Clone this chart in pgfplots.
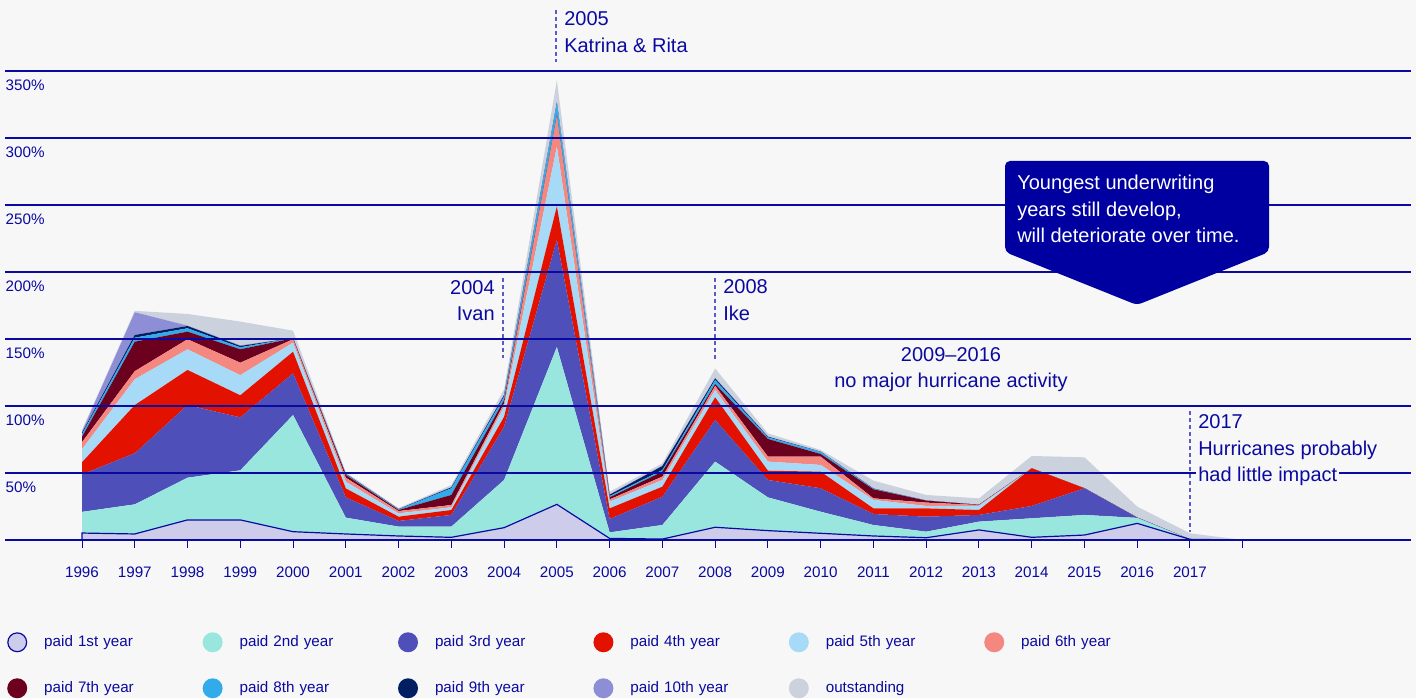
\documentclass[border=0pt]{standalone}
\usepackage{fontspec}
\setmainfont{Liberation Sans}
\usepackage{pgfplots}
\usepackage{pgfplotstable}
\pgfplotsset{compat=1.18}

\newlength\px
\setlength\px{0.75bp}

\definecolor{bg}{HTML}{F7F7F7}
\definecolor{navy}{HTML}{0A0AA0}
\definecolor{dashcol}{HTML}{5A5AC8}
\definecolor{boxblue}{HTML}{0000A0}
\definecolor{pone}{HTML}{CDCDEB}
\definecolor{ptwo}{HTML}{99E6DF}
\definecolor{pthree}{HTML}{4F4FBA}
\definecolor{pfour}{HTML}{E21100}
\definecolor{pfive}{HTML}{A6DAF6}
\definecolor{psix}{HTML}{F4877F}
\definecolor{pseven}{HTML}{6B001F}
\definecolor{peight}{HTML}{32ABEA}
\definecolor{pnine}{HTML}{001E62}
\definecolor{pten}{HTML}{8E8ED6}
\definecolor{pout}{HTML}{CCD1DE}

\newcommand\smallfont{\fontsize{11.4bp}{14bp}\selectfont}
\newcommand\annfont{\fontsize{15bp}{20bp}\selectfont}

% loss ratio paid per development year, % of premium (stacked)
\pgfplotstableread{
year p1   p2    p3   p4   p5   p6   p7   p8  p9  p10 out
1996 5.2  15.8  28   9    9.7  5.3  4    2   1   1   1
1997 4.5  22.1  38.1 36   19.3 6    22   3   2   17  1
1998 15   31.5  54.2 26.2 15.4 7.5  5.7  2.5 1.7 0.3 8.7
1999 15   37    39.5 16.5 15   9.3  10   1.5 1   0.5 17.7
2000 6.2  87.1  31.1 16.1 6.8  2.5  0.7  0.2 0   0   5.5
2001 4.5  12.2  15.1 6.7  5    3    2    0.5 0.3 0.2 1
2002 3    7     4.2  3.2  2.5  1.7  0.8  0.4 0.2 0.2 0.6
2003 2    8     8.7  3.7  2    1.7  7.5  5   0.7 0.2 1.5
2004 9.2  35.6  39.8 7.4  7.5  2.5  2.5  2.5 1.2 0.5 3.8
2005 26.6 117.4 80   25   44.5 22.5 0.8  8.7 0.8 0.7 16
2006 1.2  4.5   10   7.9  5    1.7  1.5  1   1   0.2 2
2007 0.7  10.5  21.1 7.5  5    2.5  3.7  1.2 3   0.3 1.7
2008 9.5  49    31.1 16.9 5.5  3    1.4  3   1.2 0.4 7
2009 7    24.8  13   6.9  6.8  3.7  13.2 1.2 0.5 0.2 2.3
2010 5    16.1  17.5 12.4 5    6.2  2    1.5 0.2 0.1 1.2
2011 3    8.2   8.2  4.2  6.3  1.2  6.7  0.4 0.2 0.1 5.8
2012 1.7  4.5   11.2 6.2  1.8  2.5  1.5  0.1 0   0   4.1
2013 7.5  6.2   5    3.7  3    0.7  0.2  0   0   0   4.8
2014 2    14.2  9.2  28.1 0    0    0    0   0   0   9.2
2015 3.7  15    19.9 0    0    0    0    0   0   0   23.1
2016 12.4 4.1   0.2  0    0    0    0    0   0   0   8.2
2017 0.5  0     0    0    0    0    0    0   0   0   4.5
2018 0    0     0    0    0    0    0    0   0   0   0
}\lossdata

\begin{document}
\begin{tikzpicture}
\fill[bg] (0,0) rectangle (1416\px,698\px);
\begin{axis}[
  at={(5\px,158\px)}, anchor=south west,
  scale only axis, width=1406\px, height=469\px,
  xmin=1994.5406, xmax=2021.189, ymin=0, ymax=350,
  axis x line*=bottom, axis y line*=left,
  x axis line style={navy, line width=1.3\px, -},
  y axis line style={draw=none},
  xtick={1996,1997,...,2018},
  xticklabels={1996,1997,1998,1999,2000,2001,2002,2003,2004,2005,2006,2007,2008,2009,2010,2011,2012,2013,2014,2015,2016,2017,{}},
  ytick={50,100,150,200,250,300,350},
  yticklabels={50\%,100\%,150\%,200\%,250\%,300\%,350\%},
  ymajorgrids, major grid style={navy, line width=1.2\px},
  xtick align=outside, ytick align=inside, major tick length=8\px,
  x tick style={navy, line width=1\px}, y tick style={draw=none},
  tick label style={font=\smallfont, text=navy},
  yticklabel style={anchor=north west, xshift=-4\px, yshift=-4.3\px},
  xticklabel style={yshift=-14\px},
  axis on top, stack plots=y, no markers,
  legend columns=6,
  legend style={at={(0.0014,-0.1962)}, anchor=north west, draw=none, fill=none,
    inner sep=0pt, font=\smallfont, text=navy, row sep=26\px,
    cells={anchor=west},
    nodes={inner sep=0pt, text width=158.4\px, align=left},
    /tikz/every odd column/.append style={column sep=17\px}},
  legend image code/.code={\fill[#1] (10\px,0) circle (10\px);},
]
\addplot[fill=pone, draw=navy, line width=1.2\px,
  legend image code/.code={\filldraw[fill=pone, draw=navy, line width=1.2\px] (10\px,0) circle (9.4\px);}]
  table[x=year,y=p1]{\lossdata} \closedcycle;
\addlegendentry{paid 1st year}
\addplot[fill=ptwo, draw=none] table[x=year,y=p2]{\lossdata} \closedcycle;
\addlegendentry{paid 2nd year}
\addplot[fill=pthree, draw=none] table[x=year,y=p3]{\lossdata} \closedcycle;
\addlegendentry{paid 3rd year}
\addplot[fill=pfour, draw=none] table[x=year,y=p4]{\lossdata} \closedcycle;
\addlegendentry{paid 4th year}
\addplot[fill=pfive, draw=none] table[x=year,y=p5]{\lossdata} \closedcycle;
\addlegendentry{paid 5th year}
\addplot[fill=psix, draw=none] table[x=year,y=p6]{\lossdata} \closedcycle;
\addlegendentry{paid 6th year}
\addplot[fill=pseven, draw=none] table[x=year,y=p7]{\lossdata} \closedcycle;
\addlegendentry{paid 7th year}
\addplot[fill=peight, draw=none] table[x=year,y=p8]{\lossdata} \closedcycle;
\addlegendentry{paid 8th year}
\addplot[fill=pnine, draw=none] table[x=year,y=p9]{\lossdata} \closedcycle;
\addlegendentry{paid 9th year}
\addplot[fill=pten, draw=none] table[x=year,y=p10]{\lossdata} \closedcycle;
\addlegendentry{paid 10th year}
\addplot[fill=pout, draw=none] table[x=year,y=out]{\lossdata} \closedcycle;
\addlegendentry{outstanding}
\end{axis}

% annotations, in pixel units of the picture
\begin{scope}[x=\px, y=\px, every node/.style={font=\annfont, text=navy, inner sep=0pt}]
  \tikzset{dashline/.style={dashcol, line width=1.3\px, dash pattern=on 4\px off 3\px}}
  \draw[dashline] (556,688) -- (556,636);
  \node[anchor=base west] at (564,672) {2005};
  \node[anchor=base west] at (564,645) {Katrina \& Rita};

  \draw[dashline] (503,420) -- (503,340);
  \node[anchor=base east] at (495,403) {2004};
  \node[anchor=base east] at (495,377) {Ivan};

  \draw[dashline] (715,420) -- (715,338);
  \node[anchor=base west] at (723,404) {2008};
  \node[anchor=base west] at (723,377) {Ike};

  \node[anchor=base] at (951,336.5) {2009–2016};
  \node[anchor=base] at (951,310.5) {no major hurricane activity};

  \draw[dashline] (1190,287) -- (1190,166);
  \node[anchor=base west, fill=bg, inner xsep=2\px] at (1196,270) {2017};
  \node[anchor=base west, fill=bg, inner xsep=2\px] at (1196,243) {Hurricanes probably};
  \node[anchor=base west, fill=bg, inner xsep=2\px] at (1196,216.5) {had little impact};

  \fill[boxblue, rounded corners=5\px] (1005,537) -- (1269,537) -- (1269,446) -- (1137,393) -- (1005,446) -- cycle;
  \node[anchor=base west, text=white] at (1017,508.5) {Youngest underwriting};
  \node[anchor=base west, text=white] at (1017,481.5) {years still develop,};
  \node[anchor=base west, text=white] at (1017,455) {will deteriorate over time.};
\end{scope}
\end{tikzpicture}
\end{document}
